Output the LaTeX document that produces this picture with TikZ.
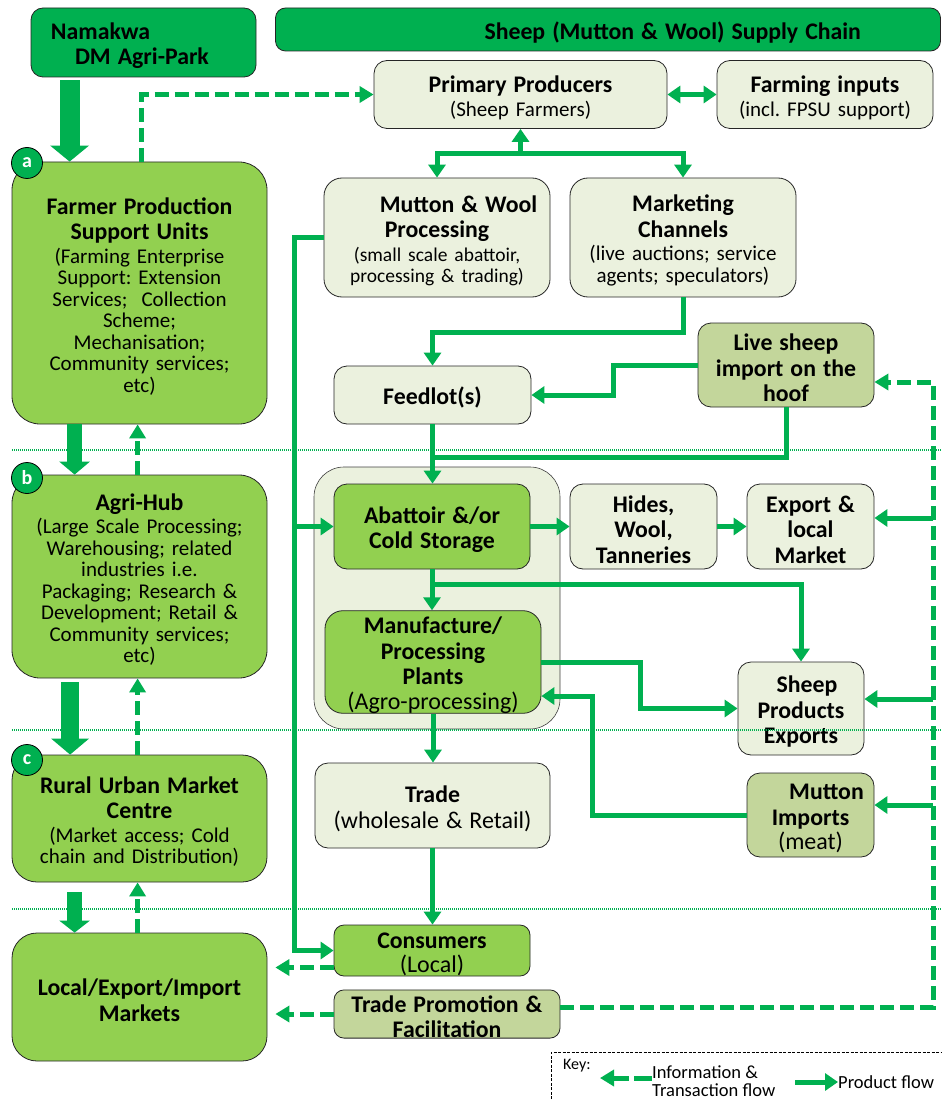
\documentclass[tikz,border=0pt]{standalone}
\usepackage{fontspec}
\setmainfont{Carlito}
\usetikzlibrary{arrows.meta,calc}
\definecolor{dgreen}{HTML}{00B050}
\definecolor{lgreen}{HTML}{92D050}
\definecolor{pale}{HTML}{EBF1DE}
\definecolor{olive}{HTML}{C3D69B}
\frenchspacing
% bold heading line, and a larger plain line
\newcommand{\hd}[1]{{\fontsize{23.8}{21.5}\selectfont\bfseries #1}}
\newcommand{\bt}[1]{{\fontsize{24}{21.5}\selectfont #1}}
\begin{document}
\setlength{\lineskiplimit}{-30pt}
\begin{tikzpicture}[x=1pt,y=-1pt,
  every node/.style={inner sep=0pt, align=center, font=\fontsize{21}{21.5}\selectfont},
  box/.style={draw=black!85, line width=0.8pt, rounded corners=#1, text height=23pt},
  box/.default=13pt,
  palebox/.style={box=#1, fill=pale}, palebox/.default=13pt,
  greenbox/.style={box=#1, fill=lgreen}, greenbox/.default=13pt,
  olivebox/.style={box=#1, fill=olive}, olivebox/.default=13pt,
  prod/.style={draw=dgreen, line width=5pt, -{Triangle[width=17pt,length=13pt]}},
  prodline/.style={draw=dgreen, line width=5pt},
  info/.style={draw=dgreen, line width=5pt, dash pattern=on 14pt off 6pt, -{Triangle[width=16pt,length=14pt]}},
  big/.style={draw=dgreen},
  sep/.style={draw=dgreen, line width=1.3pt, dash pattern=on 1pt off 1pt},
  badge/.style={circle, draw=black, line width=0.8pt, fill=dgreen, minimum size=31pt, text=white, font=\fontsize{20}{20}\selectfont\bfseries},
  keytext/.style={font=\fontsize{18.5}{18}\selectfont, align=left}
]
\useasboundingbox (0,0) rectangle (942,1099);

% ---------- header ----------
\node[box=12pt, fill=dgreen, minimum width=225, minimum height=69, text width=219, align=left] (namakwa) at (143.5,42.5)
  {\hspace*{17pt}\hd{Namakwa}\\[3.5pt]\hspace*{41pt}\hd{DM Agri-Park}};
\node[box=10pt, fill=dgreen, minimum width=665, minimum height=43, text width=655, align=left] (title) at (608,29.5)
  {\hspace*{204pt}\hd{Sheep (Mutton \& Wool) Supply Chain}};

% ---------- left column ----------
\node[greenbox=28pt, minimum width=255, minimum height=262, text width=251] (fpsu) at (139.5,293)
  {\hd{Farmer Production}\\[4pt]\hd{Support Units}\\[2pt](Farming Enterprise\\Support: Extension\\Services;~ Collection\\Scheme;\\Mechanisation;\\Community services;\\etc)};
\node[greenbox=28pt, minimum width=255, minimum height=203, text width=251] (hub) at (139.5,576.5)
  {\hd{Agri-Hub}\\[2pt](Large Scale Processing;\\Warehousing; related\\industries i.e.\\Packaging; Research \&\\Development; Retail \&\\Community services;\\etc)};
\node[greenbox=25pt, minimum width=255, minimum height=127, text width=251] (rumc) at (139.5,818.5)
  {\hd{Rural Urban Market}\\[4pt]\hd{Centre}\\[2pt](Market access; Cold\\chain and Distribution)};
\node[greenbox=25pt, minimum width=255, minimum height=128, text width=251] (lm) at (139.5,997)
  {\hd{Local/Export/Import}\\[4pt]\hd{Markets}};
\node[badge] (ba) at (27,163) {a};
\node[badge] (bb) at (27,478) {b};
\node[badge] (bc) at (27,760) {c};

% ---------- supply chain ----------
\node[palebox, minimum width=293, minimum height=68, text width=287] (pp) at (520.5,94.5)
  {\hd{Primary Producers}\\[2pt](Sheep Farmers)\hspace*{38pt}};
\node[palebox, minimum width=216, minimum height=68, text width=212] (fi) at (825,94.5)
  {\hd{Farming inputs}\\[2pt](incl. FPSU support)};
\node[palebox=18pt, minimum width=226, minimum height=119, text width=222] (mwp) at (437,237.5)
  {\hspace*{43pt}\hd{Mutton \& Wool}\\[4pt]\hd{Processing}\\[2pt]{\fontsize{19.5}{21.5}\selectfont(small scale abattoir,}\\{\fontsize{19.5}{21.5}\selectfont processing \& trading)}};
\node[palebox=18pt, minimum width=226, minimum height=119, text width=222] (mc) at (683,237.5)
  {\hd{Marketing}\\[4pt]\hd{Channels}\\[2pt](live auctions; service\\agents; speculators)};
\node[palebox, minimum width=197, minimum height=58, text width=193] (feed) at (432.5,395)
  {\hd{Feedlot(s)}};
\node[olivebox, minimum width=176, minimum height=84, text width=172] (live) at (786,365)
  {\hd{Live sheep}\\[4pt]\hd{import on the}\\[4pt]\hd{hoof}};

\node[palebox=30pt, draw=black!75, line width=0.6pt, minimum width=246, minimum height=262] (plant) at (437,598) {};
\node[greenbox, minimum width=196, minimum height=85, text width=192] (abat) at (432,526.5)
  {\hd{Abattoir \&/or}\\[4pt]\hd{Cold Storage}};
\node[greenbox=18pt, minimum width=216, minimum height=102, text width=214] (manu) at (433,662)
  {\hd{Manufacture/}\\[4pt]\hd{Processing}\\[4pt]\hd{Plants}\\[3pt]\bt{(Agro-processing)}};
\node[palebox, minimum width=147, minimum height=85, text width=145] (hides) at (643.5,526.5)
  {\hd{Hides,}\\[4pt]\hd{Wool,}\\[4pt]\hd{Tanneries}};
\node[palebox, minimum width=127, minimum height=85, text width=125] (export) at (810.5,526.5)
  {\hd{Export \&}\\[4pt]\hd{local}\\[4pt]\hd{Market}};
\node[palebox, minimum width=126, minimum height=93, text width=124] (spe) at (801,708.5)
  {\hspace*{12pt}\hd{Sheep}\\[4pt]\hd{Products}\\[4pt]\hd{Exports}};
\node[palebox, minimum width=235, minimum height=85, text width=233] (trade) at (432.5,805.5)
  {\hd{Trade}\\[4pt]\bt{(wholesale \& Retail)}};
\node[olivebox, minimum width=127, minimum height=84, text width=125] (mi) at (810.5,815)
  {\hspace*{32pt}\hd{Mutton}\\[4pt]\hd{Imports}\\[3pt]\bt{(meat)}};
\node[greenbox=10pt, minimum width=196, minimum height=51, text width=194] (cons) at (432,950.5)
  {\hd{Consumers}\\[3pt]\bt{(Local)}};
\node[olivebox=10pt, minimum width=226, minimum height=42, text width=224] (tp) at (447,1014)
  {\hd{Trade Promotion \&}\\[3.5pt]\hd{Facilitation}};

% ---------- block arrows in the left column ----------
\draw[big, line width=20pt, -{Triangle[width=38pt,length=16pt]}]
  ([xshift=39pt,yshift=-3pt]namakwa.south west) -- ([xshift=58pt]fpsu.north west);
\draw[big, line width=15pt, -{Triangle[width=30pt,length=13pt]}]
  ([xshift=63pt]fpsu.south west) -- ([xshift=63pt]hub.north west);
\draw[big, line width=18pt, -{Triangle[width=37pt,length=16pt]}]
  ([xshift=58.5pt,yshift=-4pt]hub.south west) -- ([xshift=58.5pt]rumc.north west);
\draw[big, line width=15pt, -{Triangle[width=30pt,length=12pt]}]
  ([xshift=63pt,yshift=-10pt]rumc.south west) -- ([xshift=63pt]lm.north west);

% information flow in the left column
\draw[info] ([xshift=130pt]fpsu.north west) |- (pp.west);
\draw[info] ([xshift=126pt]hub.north west) -- ([xshift=126pt]fpsu.south west);
\draw[info] ([xshift=126pt]rumc.north west) -- ([xshift=126pt]hub.south west);
\draw[info] ([xshift=126pt]lm.north west) -- ([xshift=126pt]rumc.south west);

% ---------- product flow ----------
\draw[prod, {Triangle[width=17pt,length=13pt]}-{Triangle[width=17pt,length=13pt]}] (pp.east) -- (fi.west);
\draw[prod] ([yshift=-25pt]pp.south) coordinate (ppj) -- (pp.south);
\draw[prod] (ppj) -| (mwp.north);
\draw[prod] (ppj) -| (mc.north);
\draw[prod] (mc.south) -- ++(0,35) -| (feed.north);
\draw[prod] (live.west) -- ++(-84,0) |- (feed.east);
\draw[prodline] (live.south) |- ([yshift=-33pt]feed.south);
\draw[prod] (feed.south) -- (feed.south |- abat.north);
\draw[prod] (abat.east) -- (hides.west);
\draw[prod] (hides.east) -- (export.west);
\draw[prod] (abat.south) -- (abat.south |- manu.north);
\draw[prod] ([yshift=-15pt]abat.south) -| (spe.north);
\draw[prod] (manu.east) -- ++(99,0) |- (spe.west);
\draw[prod] (mi.west) -| ([xshift=51pt,yshift=-34pt]manu.east) -- ([yshift=-34pt]manu.east);
\draw[prod] (manu.south) -- (manu.south |- trade.north);
\draw[prod] (trade.south) -- (trade.south |- cons.north);

% trunk on the left of the chain
\coordinate (lx) at ([xshift=-29pt]mwp.west);
\draw[prod] (mwp.west) -- (lx) |- (cons.west);
\draw[prod] (lx |- abat.west) -- (abat.west);

% trunk on the right of the chain
\coordinate (rx) at (933,0);
\coordinate (rtop) at ([yshift=-17pt]live.east);
\coordinate (tp1) at ([yshift=7pt]tp.east);
\coordinate (ex1) at ([yshift=8.5pt]export.east);
\coordinate (sp1) at ([yshift=9.5pt]spe.east);
\coordinate (mi1) at ([yshift=10pt]mi.east);
\draw[info] (tp1) -| (rx |- rtop) -- (rtop);
\draw[prod] (rx |- ex1) -- (ex1);
\draw[prod] (rx |- sp1) -- (sp1);
\draw[prod] (rx |- mi1) -- (mi1);

% information back to the markets
\coordinate (c1) at ([yshift=-17pt]cons.west);
\draw[info, shorten >=8pt] (c1) -- (c1 -| lm.east);
\draw[info, shorten >=8pt] (tp.west) -- (tp.west -| lm.east);

% ---------- level separators ----------
\draw[sep] (12,450) -- (942,450);
\draw[sep] (12,730) -- (942,730);
\draw[sep] (12,909) -- (942,909);

% ---------- key ----------
\draw[black, line width=1pt, dash pattern=on 3pt off 1.5pt] (551,1099) |- (942,1052);
\node[keytext, anchor=west, font=\fontsize{16}{16}\selectfont] (key) at (563,1066) {Key:};
\node[keytext, anchor=west] (kinfo) at (652,1081) {Information \&\\Transaction flow};
\draw[info, dash pattern=on 18pt off 5pt] ([yshift=3pt]kinfo.west) -- ++(-52,0);
\node[keytext, anchor=west] (kprod) at (838,1082) {Product flow};
\draw[prod] ([xshift=-43pt]kprod.west) -- (kprod.west);
\end{tikzpicture}
\end{document}
